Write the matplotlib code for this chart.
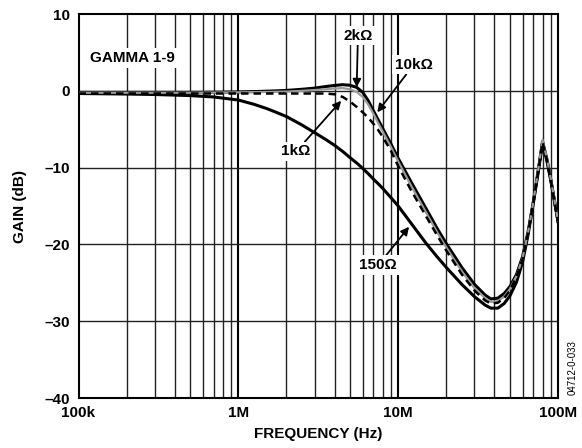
import matplotlib
matplotlib.use('Agg')
import matplotlib.pyplot as plt
from matplotlib.ticker import FixedLocator, NullFormatter
import numpy as np

plt.rcParams['font.family'] = 'Liberation Sans'
plt.rcParams['font.weight'] = 'bold'
plt.rcParams['axes.labelweight'] = 'bold'
plt.rcParams['font.size'] = 11

# frequency points (MHz) shared by all curves
FREQ_MHZ = [0.1, 0.2, 0.3, 0.5, 0.7, 1, 1.25, 1.5, 1.75, 2, 2.5, 3, 3.5, 4, 4.5, 5,
            5.5, 6, 6.5, 7, 7.5, 8, 9, 10, 12, 15, 17.5, 20, 25, 30, 35, 38, 42, 46,
            50, 55, 60, 65, 70, 75, 80, 85, 90, 100]

GAIN_150 = [-0.35, -0.42, -0.48, -0.62, -0.8, -1.2, -1.75, -2.3, -2.85, -3.35, -4.45,
            -5.45, -6.3, -7.1, -7.9, -8.7, -9.4, -10.1, -10.8, -11.5, -12.1, -12.7,
            -13.9, -15.0, -17.2, -19.9, -21.6, -23.0, -25.2, -26.8, -27.9, -28.3, -28.3,
            -27.7, -26.7, -24.9, -22.3, -18.7, -14.7, -10.7, -6.8, -9.0, -11.6, -17.0]

GAIN_2K = [-0.2, -0.2, -0.2, -0.2, -0.18, -0.15, -0.1, -0.05, 0.0, 0.05, 0.2, 0.35,
           0.55, 0.7, 0.8, 0.72, 0.45, -0.2, -1.3, -2.6, -3.8, -4.9, -6.9, -8.8, -11.8,
           -15.4, -17.9, -19.9, -23.0, -25.2, -26.6, -27.1, -27.0, -26.4, -25.5, -23.9,
           -21.6, -18.3, -14.5, -10.5, -6.6, -8.8, -11.5, -17.0]

GAIN_10K = [-0.25, -0.25, -0.25, -0.25, -0.23, -0.2, -0.17, -0.15, -0.12, -0.1, 0.0,
            0.1, 0.2, 0.3, 0.35, 0.2, -0.15, -0.8, -1.8, -3.0, -4.2, -5.3, -7.3, -9.2,
            -12.3, -15.9, -18.4, -20.4, -23.5, -25.7, -27.0, -27.5, -27.4, -26.8, -25.8,
            -24.1, -21.8, -18.4, -14.5, -10.4, -6.4, -8.7, -11.4, -16.9]

GAIN_1K = [-0.35, -0.35, -0.35, -0.35, -0.35, -0.35, -0.35, -0.35, -0.35, -0.35, -0.35,
           -0.35, -0.35, -0.45, -0.8, -1.4, -2.1, -2.8, -3.5, -4.3, -5.1, -6.0, -7.8,
           -9.8, -12.9, -16.4, -18.8, -20.8, -23.9, -26.0, -27.3, -27.7, -27.6, -27.0,
           -26.0, -24.2, -21.9, -18.5, -14.6, -10.6, -6.7, -8.9, -11.6, -17.0]

X_TICKS = [1e5, 1e6, 1e7, 1e8]
X_LABELS = ['100k', '1M', '10M', '100M']
Y_TICKS = [-40, -30, -20, -10, 0, 10]
Y_LABELS = ['\u201340', '\u201330', '\u201320', '\u201310', '0', '10']

freq = np.array(FREQ_MHZ) * 1e6

fig = plt.figure(figsize=(5.82, 4.48), dpi=100)
ax = fig.add_axes([0.1349, 0.1116, 0.8239, 0.8571])
ax.set_xscale('log')
ax.set_xlim(1e5, 1e8)
ax.set_ylim(-40, 10)

# grid: every 2..9 x decade, plus thicker decade lines
minor = [m * 10 ** d for d in range(5, 8) for m in range(2, 10)]
for f in minor:
    ax.axvline(f, color='#222222', lw=1.0, zorder=1)
for f in [1e6, 1e7]:
    ax.axvline(f, color='black', lw=1.5, zorder=1)
for g in [-30, -20, -10, 0]:
    ax.axhline(g, color='#222222', lw=1.0, zorder=1)

ax.plot(freq, GAIN_2K, color='black', lw=2.2, zorder=3)
ax.plot(freq, GAIN_10K, color='#9a9a9a', lw=1.6, zorder=4)
ax.plot(freq, GAIN_1K, color='black', lw=1.8, ls=(0, (3, 2)), zorder=5)
ax.plot(freq, GAIN_150, color='black', lw=2.2, zorder=3)

ax.xaxis.set_major_locator(FixedLocator(X_TICKS))
ax.xaxis.set_minor_locator(FixedLocator(minor))
ax.xaxis.set_minor_formatter(NullFormatter())
ax.set_xticklabels(X_LABELS)
ax.set_yticks(Y_TICKS)
ax.set_yticklabels(Y_LABELS)
ax.tick_params(which='both', length=0, pad=6)
for s in ax.spines.values():
    s.set_linewidth(1.5)

ax.set_xlabel('FREQUENCY (Hz)', labelpad=5)
ax.set_ylabel('GAIN (dB)', labelpad=13)

box = dict(facecolor='white', edgecolor='none', pad=2)
arrow = dict(arrowstyle='-|>', color='black', lw=1.3, mutation_scale=12, shrinkA=0, shrinkB=0)

ax.text(0.024, 0.885, 'GAMMA 1-9', transform=ax.transAxes, ha='left', va='center', bbox=box, zorder=2)
ax.annotate('2k\u03a9', xy=(5.5e6, 0.45), xytext=(5.6e6, 7.2), ha='center', va='center',
            bbox=box, arrowprops=arrow, zorder=6)
ax.annotate('10k\u03a9', xy=(7.4e6, -2.8), xytext=(12.5e6, 3.4), ha='center', va='center',
            bbox=box, arrowprops=arrow, zorder=6)
ax.annotate('1k\u03a9', xy=(4.4e6, -1.3), xytext=(2.3e6, -7.9), ha='center', va='center',
            bbox=box, arrowprops=arrow, zorder=6)
ax.annotate('150\u03a9', xy=(11.7e6, -17.7), xytext=(7.5e6, -22.7), ha='center', va='center',
            bbox=box, arrowprops=arrow, zorder=6)

fig.text(0.984, 0.18, '04712-0-033', rotation=90, ha='center', va='center',
         fontsize=7, fontweight='normal')

fig.savefig('out.png', dpi=100)
